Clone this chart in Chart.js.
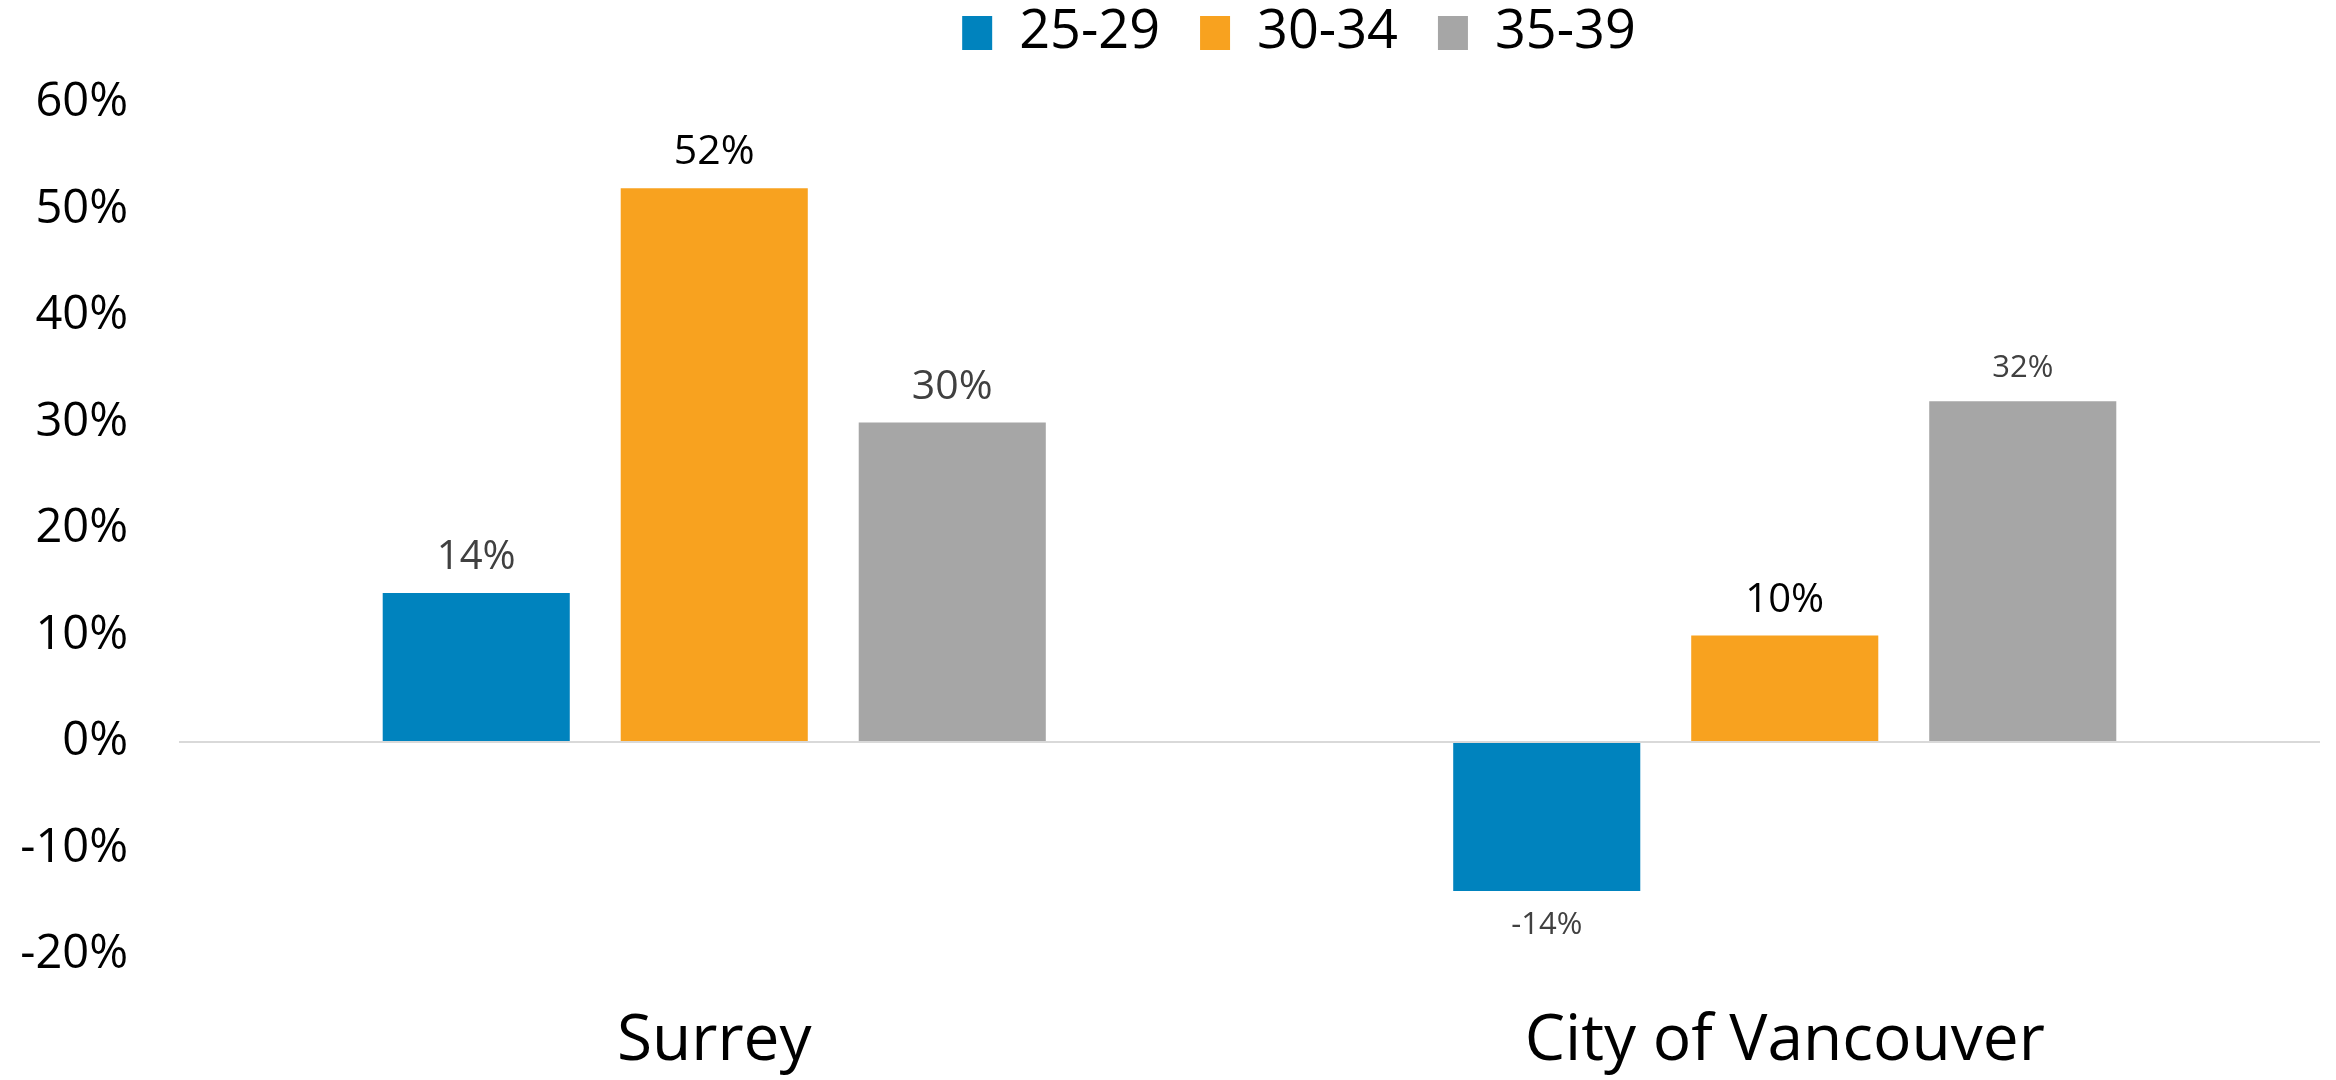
<!DOCTYPE html>
<html>
<head>
<meta charset="utf-8">
<script src="https://cdn.jsdelivr.net/npm/chart.js@4.4.1/dist/chart.umd.min.js"></script>
<style>
  html, body { margin: 0; padding: 0; background: #fff; }
  #wrap { width: 2336px; height: 1080px; }
</style>
</head>
<body>
<div id="wrap"><canvas id="chart"></canvas></div>
<script>
const categories = ['Surrey', 'City of Vancouver'];
const seriesNames = ['25-29', '30-34', '35-39'];
const age2529 = [14, -14];
const age3034 = [52, 10];
const age3539 = [30, 32];
const yTicks = [-20, -10, 0, 10, 20, 30, 40, 50, 60];

const colors = ['#0083BE', '#F8A21F', '#A6A6A6'];
// label look per dataset / per category
const labelLook = [
    [{ size: 40, color: '#404040' }, { size: 31, color: '#404040' }],
    [{ size: 41, color: '#000000' }, { size: 40, color: '#000000' }],
    [{ size: 41, color: '#404040' }, { size: 31, color: '#404040' }]
];

const FONT = "'Open Sans', 'Noto Sans', sans-serif";

const barLabels = {
    id: 'barLabels',
    afterDatasetsDraw(chart) {
        const ctx = chart.ctx;
        ctx.save();
        ctx.textAlign = 'center';
        ctx.textBaseline = 'alphabetic';
        chart.data.datasets.forEach((ds, di) => {
            const meta = chart.getDatasetMeta(di);
            meta.data.forEach((bar, i) => {
                const v = ds.data[i];
                const look = labelLook[di][i];
                ctx.font = look.size + 'px ' + FONT;
                ctx.fillStyle = look.color;
                const txt = v + '%';
                if (v >= 0) {
                    ctx.fillText(txt, bar.x, bar.y - 24);
                } else {
                    ctx.fillText(txt, bar.x, bar.y + 21 + look.size * 0.714);
                }
            });
        });
        ctx.restore();
    }
};

// legend sits right of centre and higher up in the original
const legendShift = {
    id: 'legendShift',
    afterLayout(chart) {
        const lg = chart.legend;
        lg.left += 139;
        lg.right += 139;
        lg.top -= 34;
        lg.bottom -= 34;
    }
};

const ctx = document.getElementById('chart').getContext('2d');
const chart = new Chart(ctx, {
    type: 'bar',
    data: {
        labels: categories,
        datasets: [
            { label: seriesNames[0], data: age2529, backgroundColor: colors[0] },
            { label: seriesNames[1], data: age3034, backgroundColor: colors[1] },
            { label: seriesNames[2], data: age3539, backgroundColor: colors[2] }
        ]
    },
    options: {
        responsive: true,
        maintainAspectRatio: false,
        animation: false,
        devicePixelRatio: 1,
        categoryPercentage: 0.667,
        barPercentage: 0.786,
        layout: { padding: { top: 0, left: 0, right: 16, bottom: 0 } },
        plugins: {
            legend: {
                display: true,
                position: 'top',
                maxHeight: 103,
                labels: {
                    boxWidth: 30,
                    boxHeight: 34,
                    padding: 40,
                    color: '#000',
                    font: { family: FONT, size: 54 }
                }
            },
            tooltip: { enabled: false }
        },
        scales: {
            x: {
                grid: { display: false },
                border: { display: false },
                ticks: {
                    color: '#000',
                    padding: 40,
                    font: { family: FONT, size: 64 }
                },
                afterFit(scale) { scale.height = 125; }
            },
            y: {
                min: yTicks[0],
                max: yTicks[yTicks.length - 1],
                afterBuildTicks(scale) {
                    scale.ticks = yTicks.map(v => ({ value: v }));
                },
                grid: {
                    drawTicks: false,
                    lineWidth: 2,
                    color: c => (c.tick && c.tick.value === 0 ? '#D9D9D9' : 'rgba(0,0,0,0)')
                },
                border: { display: false },
                ticks: {
                    color: '#000',
                    padding: 51,
                    font: { family: FONT, size: 47 },
                    callback: v => v + '%'
                },
                afterFit(scale) { scale.width = 179; }
            }
        }
    },
    plugins: [barLabels, legendShift]
});
</script>
</body>
</html>
